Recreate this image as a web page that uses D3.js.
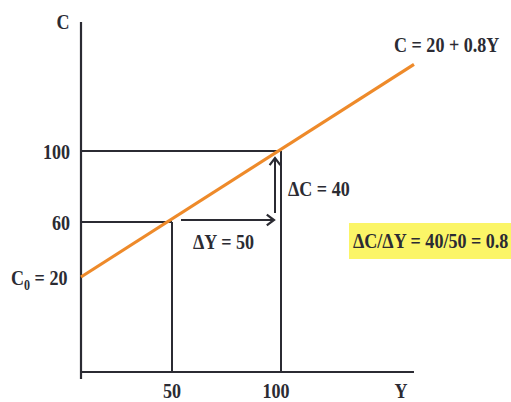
<!DOCTYPE html>
<html>
<head>
<meta charset="utf-8">
<script src="https://cdn.jsdelivr.net/npm/d3@7"></script>
<style>
  body { margin: 0; background: #fff; }
  text { font-family: "Liberation Serif", "Times New Roman", serif; font-weight: bold; fill: #2b2b33; }
</style>
</head>
<body>
<div id="chart"></div>
<script>
// consumption function C = 20 + 0.8Y
const intercept = 20;
const mpc = 0.8;
const incomeTicks = [50, 100];      // Y values marked on the x axis
const consTicks = [60, 100];        // C values marked on the y axis
const lineRange = [0, 161];         // Y span of the orange line
const deltaY = 50, deltaC = 40;

const width = 511, height = 402;

const svg = d3.select("#chart")
  .append("svg")
    .attr("width", width)
    .attr("height", height);

// the drawing is schematic, so the scales are piecewise
const x = d3.scaleLinear()
  .domain([0, 50, 100])
  .range([81, 172, 281]);
const y = d3.scaleLinear()
  .domain([0, 20, 60, 100])
  .range([372, 277, 222, 151]);

const ink = "#2b2b33";
const orange = "#ee8a2a";

// condensed bold serif labels
function label(px, py, str, anchor) {
  const g = svg.append("g").attr("transform", `translate(${px},${py}) scale(0.86,1)`);
  const t = g.append("text")
    .attr("text-anchor", anchor || "start")
    .attr("font-size", 21);
  return t.text(str);
}

// highlight box behind the ratio
svg.append("rect")
  .attr("x", 349).attr("y", 223)
  .attr("width", 162).attr("height", 36)
  .attr("fill", "#fbf567");

// guide lines for the two points
const pts = incomeTicks.map(v => ({Y: v, C: intercept + mpc * v}));
pts.forEach(p => {
  svg.append("line")
    .attr("x1", x(0)).attr("x2", x(p.Y))
    .attr("y1", y(p.C)).attr("y2", y(p.C))
    .attr("stroke", ink).attr("stroke-width", 2);
  svg.append("line")
    .attr("x1", x(p.Y)).attr("x2", x(p.Y))
    .attr("y1", y(p.C)).attr("y2", y(0))
    .attr("stroke", ink).attr("stroke-width", 2);
});

// axes
svg.append("line")
  .attr("x1", x(0)).attr("x2", x(0))
  .attr("y1", 22).attr("y2", y(0) + 7)
  .attr("stroke", ink).attr("stroke-width", 2.2);
svg.append("line")
  .attr("x1", x(0) - 1).attr("x2", x(lineRange[1]))
  .attr("y1", y(0)).attr("y2", y(0))
  .attr("stroke", ink).attr("stroke-width", 2.2);

// consumption line
const line = d3.line().x(d => x(d)).y(d => y(intercept + mpc * d));
svg.append("path")
  .attr("d", line(lineRange))
  .attr("fill", "none")
  .attr("stroke", orange)
  .attr("stroke-width", 3.2);

// arrows
function arrow(x1, y1, x2, y2) {
  svg.append("line")
    .attr("x1", x1).attr("y1", y1).attr("x2", x2).attr("y2", y2)
    .attr("stroke", ink).attr("stroke-width", 2);
  const a = Math.atan2(y2 - y1, x2 - x1), s = 9;
  const pts = [a + 2.5, a - 2.5].map(b => [x2 + s * Math.cos(b), y2 + s * Math.sin(b)]);
  svg.append("path")
    .attr("d", `M${pts[0]}L${x2},${y2}L${pts[1]}`)
    .attr("fill", "none").attr("stroke", ink)
    .attr("stroke-width", 2.2).attr("stroke-linejoin", "miter");
}
const p0 = pts[0], p1 = pts[1];
arrow(x(p0.Y) + 9, y(p0.C) - 2, x(p1.Y) - 7, y(p0.C) - 2);
arrow(x(p1.Y) - 6, y(p0.C) - 9, x(p1.Y) - 6, y(p1.C) + 7);

// labels
label(63, 29, "C", "middle");
consTicks.forEach(v => label(70, y(v) + 8, v, "end"));
incomeTicks.forEach(v => label(x(v) - (v === 100 ? 5 : 0), 398, v, "middle"));
label(401, 398, "Y", "middle");

const c0 = label(11, 285, "C", "start");
c0.append("tspan").attr("font-size", 14).attr("dy", 5).text("0");
c0.append("tspan").attr("dy", -5).text(" = 20");

label(394, 52, "C = 20 + 0.8Y");
label(288, 196, "\u0394C = " + deltaC);
label(193, 249, "\u0394Y = " + deltaY);
label(353, 248, `\u0394C/\u0394Y = ${deltaC}/${deltaY} = ${deltaC / deltaY}`);
</script>
</body>
</html>
